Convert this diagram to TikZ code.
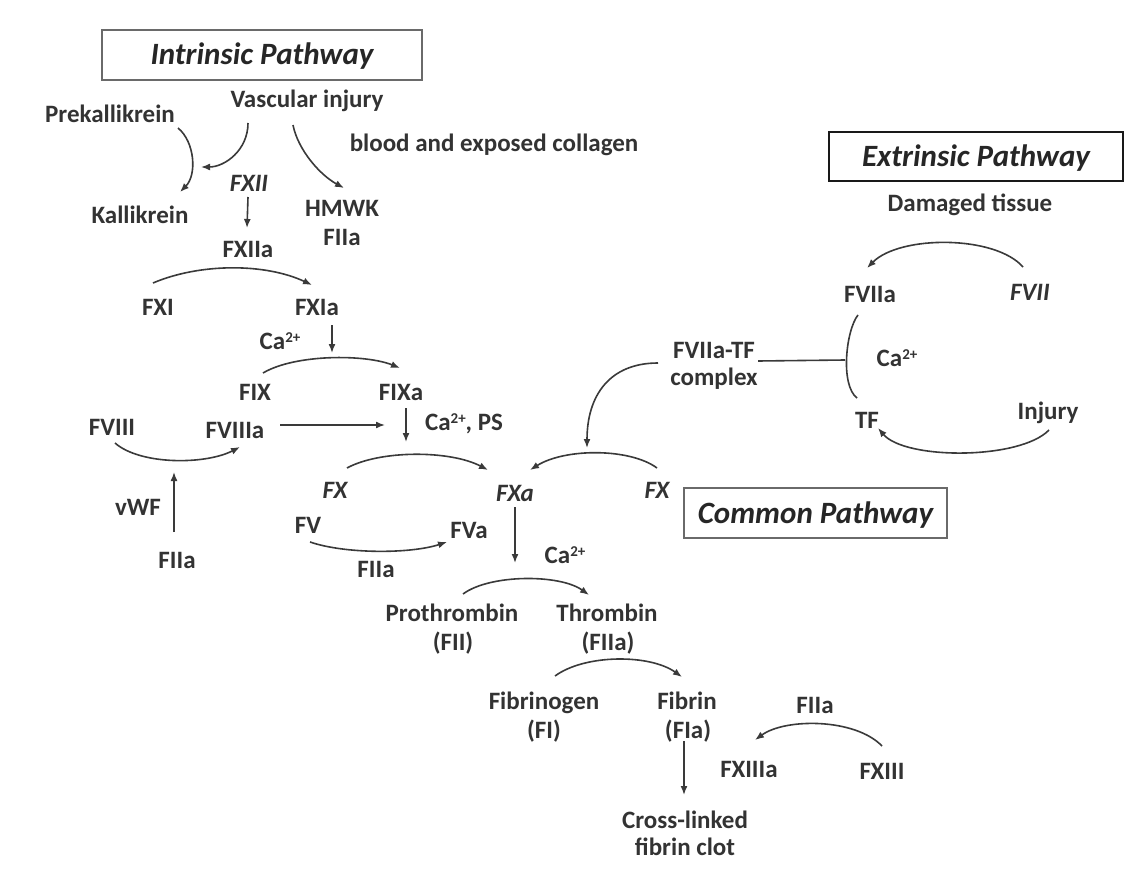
\documentclass[tikz,border=0pt]{standalone}
\usepackage{fontspec}
\setmainfont{Carlito}
\usetikzlibrary{arrows.meta}
\definecolor{txt}{HTML}{333333}
\definecolor{lncol}{HTML}{3A3A3A}
\definecolor{boxcol}{HTML}{6A6A6A}
\newcommand\supz[1]{\raisebox{7pt}{\fontsize{15}{15}\selectfont #1}}
\begin{document}
\begin{tikzpicture}[x=1pt,y=-1pt,
  lbl/.style={font=\fontsize{25}{28}\selectfont\bfseries, text=txt, inner sep=0pt, text height=16pt, text depth=0pt},
  ilbl/.style={lbl, font=\fontsize{25}{28}\selectfont\bfseries\itshape},
  titlebox/.style={draw=boxcol, line width=1.8pt, inner sep=0pt, text height=20pt, text depth=0pt,
     font=\fontsize{31}{34}\selectfont\bfseries\itshape, text=black!85},
  arr/.style={draw=lncol, line width=1.6pt, -{Latex[length=9pt,width=7pt]}},
  plain/.style={draw=lncol, line width=1.6pt}]
\useasboundingbox[fill=white] (0,0) rectangle (1135,880);

% title boxes
\node[titlebox, minimum width=320pt, minimum height=50pt] (intr) at (262,55) {Intrinsic Pathway};
\node[titlebox, draw=black!90, line width=2.6pt, minimum width=294pt, minimum height=49pt] (extr) at (976,156.5) {Extrinsic Pathway};
\node[titlebox, minimum width=263pt, minimum height=50pt] (comm) at (815.5,513) {Common Pathway};

% intrinsic labels
\node[lbl] (vasc) at (307,100) {Vascular injury};
\node[lbl] (prek) at (110,115) {Prekallikrein};
\node[lbl] (blood) at (494,143) {blood and exposed collagen};
\node[ilbl] (fxii) at (249,183) {FXII};
\node[lbl] (kall) at (140,215) {Kallikrein};
\node[lbl] (hmwk) at (342,208) {HMWK};
\node[lbl] (fiia1) at (342,237) {FIIa};
\node[lbl] (fxiia) at (248,249) {FXIIa};
\node[lbl] (fxi) at (158,307) {FXI};
\node[lbl] (fxia) at (317,307) {FXIa};
\node[lbl] (ca1) at (280,341) {Ca\supz{2+}};
\node[lbl] (fix) at (255,392) {FIX};
\node[lbl] (fixa) at (401,392) {FIXa};
\node[lbl] (fviii) at (112,427) {FVIII};
\node[lbl] (fviiia) at (235,430) {FVIIIa};
\node[lbl] (caps) at (464,422) {Ca\supz{2+}, PS};
\node[ilbl] (fxl) at (335,490) {FX};
\node[ilbl] (fxa) at (515,493) {FXa};
\node[ilbl] (fxr) at (657,490) {FX};
\node[lbl] (vwf) at (138,507) {vWF};
\node[lbl] (fv) at (308,525) {FV};
\node[lbl] (fva) at (469,530) {FVa};
\node[lbl] (fiia2) at (177,560) {FIIa};
\node[lbl] (fiia3) at (376,569) {FIIa};
\node[lbl] (ca2) at (565,555) {Ca\supz{2+}};

% common labels
\node[lbl] (proth) at (452,613) {Prothrombin};
\node[lbl] (fii) at (453,642) {(FII)};
\node[lbl] (thromb) at (607,613) {Thrombin};
\node[lbl] (fiia4) at (608,642) {(FIIa)};
\node[lbl] (fibgen) at (544,701) {Fibrinogen};
\node[lbl] (fi) at (544,730) {(FI)};
\node[lbl] (fibrin) at (687,701) {Fibrin};
\node[lbl] (fia) at (688,730) {(FIa)};
\node[lbl] (fiia5) at (815,705) {FIIa};
\node[lbl] (fxiiia) at (749,769) {FXIIIa};
\node[lbl] (fxiii) at (882,771) {FXIII};
\node[lbl] (clot1) at (685,820) {Cross-linked};
\node[lbl] (clot2) at (685,847) {fibrin clot};

% extrinsic labels
\node[lbl] (dmg) at (970,203) {Damaged tissue};
\node[lbl] (fviia) at (870,294) {FVIIa};
\node[ilbl] (fvii) at (1030,292) {FVII};
\node[lbl] (cplxa) at (714,350) {FVIIa-TF};
\node[lbl] (cplxb) at (714,377) {complex};
\node[lbl] (ca3) at (897,358) {Ca\supz{2+}};
\node[lbl] (tf) at (867,420) {TF};
\node[lbl] (injury) at (1048,411) {Injury};

% free ends
\coordinate (kallin) at (201,167);
\coordinate (fixarc) at (332,353);
\coordinate (fixain) at (385,425);
\coordinate (fxarc) at (406,442);
\coordinate (fviiiarc) at (174,472);
\coordinate (fxrarc) at (587,448);
\coordinate (protharc) at (515,563);
\coordinate (brk) at (845,360);

% intrinsic connectors
\draw[arr] ([shift={(68,13)}]prek.center) .. controls (195,142) and (197,175) .. ([shift={(40,-23)}]kall.center);
\draw[arr] ([shift={(-59,23)}]vasc.center) .. controls (248,150) and (225,167) .. (kallin);
\draw[arr] ([shift={(-14,25)}]vasc.center) .. controls (298,150) and (320,175) .. ([shift={(2,-20)}]hmwk.center);
\draw[arr] ([shift={(-1,14)}]fxii.center) -- ([shift={(-1,-21)}]fxiia.center);
\draw[arr] ([shift={(-5,-24)}]fxi.center) .. controls (200,263) and (265,263) .. ([shift={(-5,-22)}]fxia.center);
\draw[arr] ([shift={(15,18)}]fxia.center) -- (fixarc);
\draw[arr] ([shift={(8,-19)}]fix.center) .. controls (295,354) and (365,354) .. ([shift={(-1,-24)}]fixa.center);
\draw[arr] ([shift={(45,-5)}]fviiia.center) -- (fixain);
\draw[arr] ([shift={(5,16)}]fixa.center) -- (fxarc);
\draw[arr] ([shift={(3,16)}]fviii.center) .. controls (140,465) and (205,465) .. ([shift={(5,17)}]fviiia.center);
\draw[arr] ([shift={(-3,-28)}]fiia2.center) -- (fviiiarc);
\draw[arr] ([shift={(12,-22)}]fxl.center) .. controls (380,450) and (450,450) .. ([shift={(-27,-23)}]fxa.center);
\draw[arr] ([shift={(0,-22)}]fxr.center) .. controls (630,448) and (565,448) .. ([shift={(15,-23)}]fxa.center);
\draw[arr] ([shift={(-56,13)}]cplxa.center) .. controls (610,363) and (587,395) .. (fxrarc);
\draw[arr] ([shift={(0,14)}]fxa.center) -- (protharc);
\draw[arr] ([shift={(2,17)}]fv.center) .. controls (345,554) and (410,554) .. ([shift={(-22,12)}]fva.center);

% common connectors
\draw[arr] ([shift={(11,-19)}]proth.center) .. controls (490,574) and (560,574) .. ([shift={(-18,-18)}]thromb.center);
\draw[arr] ([shift={(11,-25)}]fibgen.center) .. controls (585,654) and (650,654) .. ([shift={(-5,-24)}]fibrin.center);
\draw[arr] ([shift={(-4,11)}]fia.center) -- ([shift={(-1,-25)}]clot1.center);
\draw[arr] ([shift={(0,-25)}]fxiii.center) .. controls (855,718) and (785,718) .. ([shift={(6,-29)}]fxiiia.center);

% extrinsic connectors
\draw[arr] ([shift={(-7,-25)}]fvii.center) .. controls (995,235) and (900,235) .. ([shift={(-3,-26)}]fviia.center);
\draw[plain] ([shift={(-12,21)}]fviia.center) .. controls (846,330) and (840,385) .. ([shift={(-10,-22)}]tf.center);
\draw[plain] ([shift={(44,11)}]cplxa.center) -- (brk);
\draw[arr] ([shift={(1,19)}]injury.center) .. controls (1020,460) and (905,460) .. ([shift={(11,8)}]tf.center);
\end{tikzpicture}
\end{document}
